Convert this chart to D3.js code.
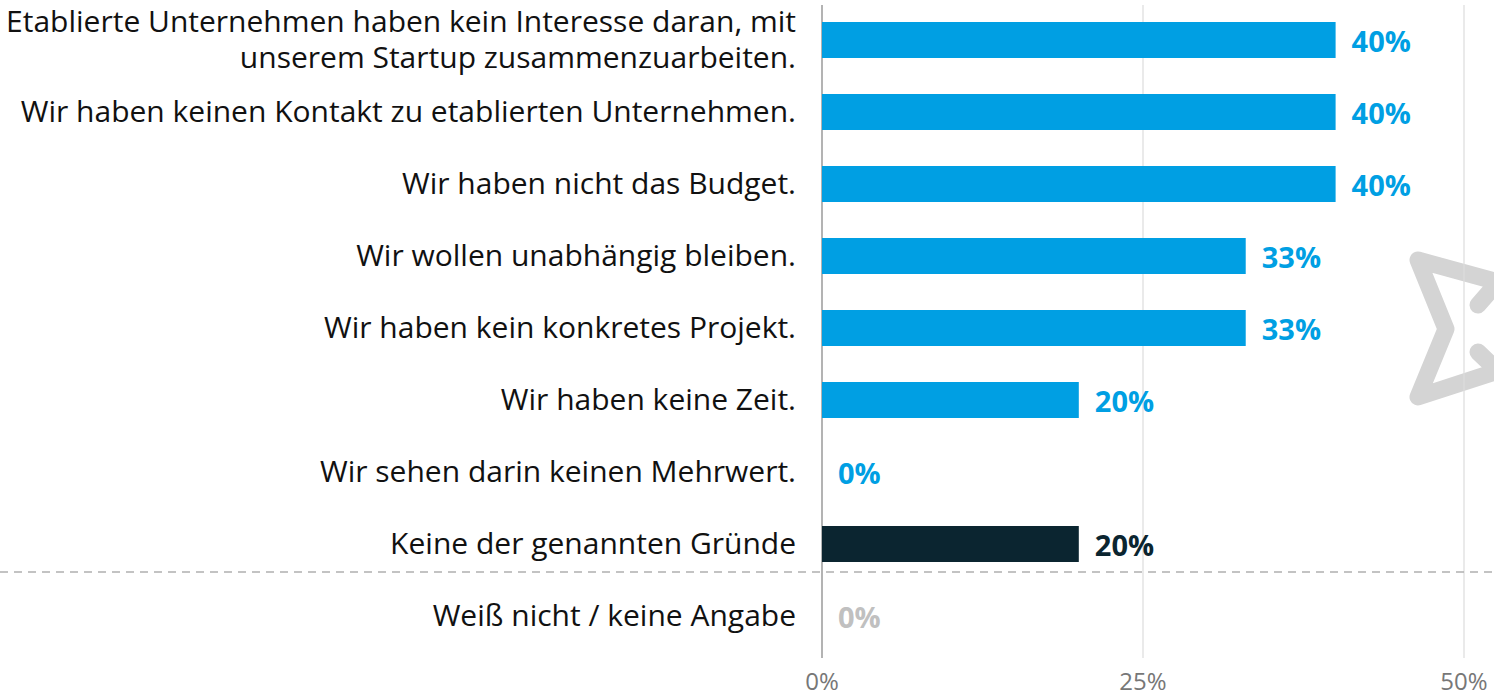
<!DOCTYPE html>
<html>
<head>
<meta charset="utf-8">
<script src="https://cdn.jsdelivr.net/npm/d3@7"></script>
<style>
  html, body { margin: 0; padding: 0; background: #fff; }
  svg { display: block; font-family: "Open Sans", sans-serif; }
</style>
</head>
<body>
<svg width="1494" height="698"></svg>
<script>
// Gründe, warum nicht mit etablierten Unternehmen zusammengearbeitet wird
const categories = [
    ["Etablierte Unternehmen haben kein Interesse daran, mit", "unserem Startup zusammenzuarbeiten."],
    ["Wir haben keinen Kontakt zu etablierten Unternehmen."],
    ["Wir haben nicht das Budget."],
    ["Wir wollen unabhängig bleiben."],
    ["Wir haben kein konkretes Projekt."],
    ["Wir haben keine Zeit."],
    ["Wir sehen darin keinen Mehrwert."],
    ["Keine der genannten Gründe"],
    ["Weiß nicht / keine Angabe"]
];
const values = [40, 40, 40, 33, 33, 20, 0, 20, 0];
const kinds = ["main", "main", "main", "main", "main", "main", "main", "none", "unknown"];
const ticks = [0, 25, 50];

const barColor = { main: "#009fe3", none: "#0b2530", unknown: "#c8c8c8" };
const valueColor = { main: "#009fe3", none: "#0b2530", unknown: "#c0c0c0" };

const svg = d3.select("svg");
const width = +svg.attr("width");

const x = d3.scaleLinear().domain([0, 50]).range([822, 1464]);
const y = d3.scaleBand()
    .domain(d3.range(categories.length))
    .range([4, 652])
    .paddingInner(0.5)
    .paddingOuter(0.25);

// Wasserzeichen (Stern) im Hintergrund
const star = [[1478, 305], [1498, 282], [1418, 260], [1446, 329], [1418, 397], [1498, 371], [1478, 352]];
svg.append("path")
    .attr("d", d3.line()(star))
    .attr("fill", "none")
    .attr("stroke", "#d4d4d4")
    .attr("stroke-width", 17)
    .attr("stroke-linejoin", "round")
    .attr("stroke-linecap", "round");

// Gitterlinien
svg.selectAll("line.grid")
    .data(ticks)
    .enter()
    .append("line")
    .attr("class", "grid")
    .attr("x1", d => x(d))
    .attr("x2", d => x(d))
    .attr("y1", 5)
    .attr("y2", 658)
    .attr("stroke", d => d === 0 ? "#9a9a9a" : "#dcdcdc")
    .attr("stroke-width", d => d === 0 ? 1.5 : 1.2);

// Trennlinie vor "Weiß nicht"
const sepY = y(7) + y.bandwidth() + 10;
svg.append("line")
    .attr("x1", 0)
    .attr("x2", width)
    .attr("y1", sepY)
    .attr("y2", sepY)
    .attr("stroke", "#b0b0b0")
    .attr("stroke-width", 1.5)
    .attr("stroke-dasharray", "8,6");

// Balken
svg.selectAll("rect.bar")
    .data(values)
    .enter()
    .append("rect")
    .attr("class", "bar")
    .attr("x", x(0))
    .attr("y", (d, i) => y(i))
    .attr("width", d => x(d) - x(0))
    .attr("height", y.bandwidth())
    .attr("fill", (d, i) => barColor[kinds[i]]);

// Kategorien
const labels = svg.selectAll("text.cat")
    .data(categories)
    .enter()
    .append("text")
    .attr("class", "cat")
    .attr("x", 796)
    .attr("y", (d, i) => y(i) + y.bandwidth() / 2)
    .attr("text-anchor", "end")
    .attr("font-size", "30px")
    .attr("fill", "#111");

labels.each(function(lines) {
    const t = d3.select(this);
    const lh = 36;
    lines.forEach((line, j) => {
        t.append("tspan")
            .attr("x", 796)
            .attr("dy", j === 0 ? ((-(lines.length - 1) * lh / 2) + 10) + "px" : lh + "px")
            .text(line);
    });
});

// Werte
svg.selectAll("text.val")
    .data(values)
    .enter()
    .append("text")
    .attr("class", "val")
    .attr("x", d => x(d) + 16)
    .attr("y", (d, i) => y(i) + y.bandwidth() / 2)
    .attr("dy", "0.42em")
    .attr("font-size", "29px")
    .attr("font-weight", "bold")
    .attr("fill", (d, i) => valueColor[kinds[i]])
    .text(d => d + "%");

// Achsenbeschriftung
svg.selectAll("text.tick")
    .data(ticks)
    .enter()
    .append("text")
    .attr("class", "tick")
    .attr("x", d => x(d))
    .attr("y", 681)
    .attr("dy", "0.36em")
    .attr("text-anchor", "middle")
    .attr("font-size", "24px")
    .attr("fill", "#777")
    .text(d => d + "%");
</script>
</body>
</html>
